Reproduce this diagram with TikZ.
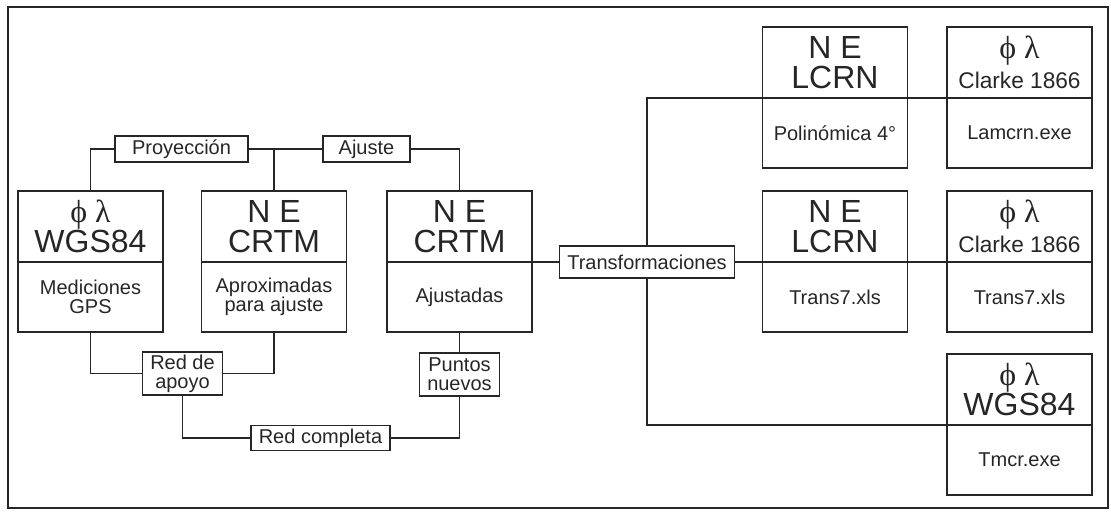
\documentclass[tikz,border=0pt]{standalone}
\usepackage{fontspec}
\setmainfont{Liberation Sans}
\newfontfamily\grk{Liberation Serif}
\usetikzlibrary{positioning}

\definecolor{ink}{gray}{0.15}

\tikzset{
  headbox/.style={draw=ink, text=ink, line width=1.1pt, minimum width=108.75pt,
    minimum height=53.25pt, inner sep=0pt, outer sep=0pt, align=center,
    font=\fontsize{24}{23}\selectfont},
  footbox/.style={draw=ink, text=ink, line width=1.1pt, minimum width=108.75pt,
    minimum height=52.5pt, inner sep=0pt, outer sep=0pt, align=center,
    font=\fontsize{15}{14}\selectfont},
  tagbox/.style={draw=ink, text=ink, line width=1.1pt, inner xsep=6pt,
    inner ysep=1pt, outer sep=0pt, align=center,
    font=\fontsize{15}{14}\selectfont},
  link/.style={draw=ink, line width=1.1pt}
}

\newcommand{\fl}{{\grk ϕ λ}}
\newcommand{\clk}{{\fontsize{17}{17}\selectfont Clarke 1866}}

\begin{document}
\begin{tikzpicture}[x=0.75pt,y=-0.75pt]
    \useasboundingbox (0,0) rectangle (1111,512);
    \draw[ink, line width=1pt] (8,7) rectangle (1108,508);

    % left column of boxes
    \node[headbox, anchor=south] (wgs) at (90.5,262) {\fl\\WGS84};
    \node[footbox, below=0pt of wgs] (wgsb) {Mediciones\\GPS};
    \node[headbox, anchor=south] (apr) at (274,262) {N E\\CRTM};
    \node[footbox, below=0pt of apr] (aprb) {Aproximadas\\para ajuste};
    \node[headbox, anchor=south] (ajs) at (459.5,262) {N E\\CRTM};
    \node[footbox, below=0pt of ajs] (ajsb) {Ajustadas};

    % right boxes
    \node[headbox, anchor=south] (pol) at (835,98) {N E\\LCRN};
    \node[footbox, below=0pt of pol] (polb) {Polinómica 4°};
    \node[headbox, anchor=south] (lam) at (1019.5,98) {\fl\\\clk};
    \node[footbox, below=0pt of lam] (lamb) {Lamcrn.exe};
    \node[headbox, anchor=south] (tr7) at (835,262) {N E\\LCRN};
    \node[footbox, below=0pt of tr7] (tr7b) {Trans7.xls};
    \node[headbox, anchor=south] (cl7) at (1019.5,262) {\fl\\\clk};
    \node[footbox, below=0pt of cl7] (cl7b) {Trans7.xls};
    \node[headbox, anchor=south] (tmc) at (1019.5,425) {\fl\\WGS84};
    \node[footbox, below=0pt of tmc] (tmcb) {Tmcr.exe};

    % labels on the links
    \node[tagbox, minimum width=99.75pt, minimum height=19.5pt] (proy) at (181.5,149) {Proyección};
    \node[tagbox, minimum width=65.25pt, minimum height=19.5pt] (ajus) at (366.5,149) {Ajuste};
    \node[tagbox, minimum height=32.25pt] (rdap) at (182.5,373.5) {Red de\\apoyo};
    \node[tagbox, minimum height=32.25pt] (ptnv) at (459.5,374.5) {Puntos\\nuevos};
    \node[tagbox, minimum height=18.75pt] (rcom) at (320.5,438) {Red completa};
    \node[tagbox, minimum height=24pt] (trans) at (647,262) {Transformaciones};

    \draw[link] (wgs.north) |- (proy.west);
    \draw[link] (proy.east) -- (ajus.west);
    \draw[link] (apr.north) -- (apr.north |- proy.east);
    \draw[link] (ajus.east) -| (ajs.north);

    \draw[link] (wgsb.south) |- (rdap.west);
    \draw[link] (rdap.east) -| (aprb.south);
    \draw[link] (rdap.south) |- (rcom.west);
    \draw[link] (rcom.east) -| (ptnv.south);
    \draw[link] (ajsb.south) -- (ptnv.north);

    \draw[link] (ajs.south east) -- (trans.west);
    \draw[link] (trans.east) -- (tr7.south west);
    \draw[link] (tr7.south east) -- (cl7.south west);
    \draw[link] (trans.north) |- (pol.south west);
    \draw[link] (pol.south east) -- (lam.south west);
    \draw[link] (trans.south) |- (tmc.south west);
\end{tikzpicture}
\end{document}
